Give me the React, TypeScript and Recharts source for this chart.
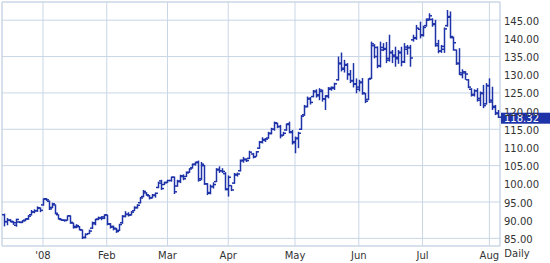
import { Bar, CartesianGrid, ComposedChart, ReferenceArea, ReferenceLine, XAxis, YAxis } from "recharts"

const BAR = "#1f33a8"
const GRID = "#c9d6e5"
const TEXT = "#333333"
const FONT = "'DejaVu Sans', Verdana, sans-serif"

// trading days, Dec 12 2007 - Aug 6 2008
const tradingDays: [string, number[]][] = [
  ["Dec", [12, 13, 14, 17, 18, 19, 20, 21, 24, 26, 27, 28, 31]],
  ["Jan", [2, 3, 4, 7, 8, 9, 10, 11, 14, 15, 16, 17, 18, 22, 23, 24, 25, 28, 29, 30, 31]],
  ["Feb", [1, 4, 5, 6, 7, 8, 11, 12, 13, 14, 15, 19, 20, 21, 22, 25, 26, 27, 28, 29]],
  ["Mar", [3, 4, 5, 6, 7, 10, 11, 12, 13, 14, 17, 18, 19, 20, 24, 25, 26, 27, 28, 31]],
  ["Apr", [1, 2, 3, 4, 7, 8, 9, 10, 11, 14, 15, 16, 17, 18, 21, 22, 23, 24, 25, 28, 29, 30]],
  ["May", [1, 2, 5, 6, 7, 8, 9, 12, 13, 14, 15, 16, 19, 20, 21, 22, 23, 27, 28, 29, 30]],
  ["Jun", [2, 3, 4, 5, 6, 9, 10, 11, 12, 13, 16, 17, 18, 19, 20, 23, 24, 25, 26, 27, 30]],
  ["Jul", [1, 2, 3, 7, 8, 9, 10, 11, 14, 15, 16, 17, 18, 21, 22, 23, 24, 25, 28, 29, 30, 31]],
  ["Aug", [1, 4, 5, 6]],
]
const dates = tradingDays.flatMap(([m, days]) => days.map((d) => `${m} ${d}`))

const monthTicks = ["Jan 2", "Feb 1", "Mar 3", "Apr 1", "May 1", "Jun 2", "Jul 1", "Aug 1"]
const monthLabels = ["'08", "Feb", "Mar", "Apr", "May", "Jun", "Jul", "Aug"]
const priceTicks = [85, 90, 95, 100, 105, 110, 115, 120, 125, 130, 135, 140, 145]

const open = [
  91.5, 89.6, 90.0, 89.5, 88.6, 89.5, 89.4, 90.0, 90.4, 91.5, 92.2, 92.6, 93.3,
  94.2, 95.9, 95.2, 93.5, 94.2, 91.5, 90.2, 90.0, 90.0, 91.2, 89.2, 88.3, 88.2, 87.3, 85.2, 86.3, 87.8, 89.0, 90.3, 90.6, 90.5,
  91.4, 89.0, 88.3, 87.6, 87.2, 89.3, 91.0, 91.6, 91.5, 92.6, 93.4, 94.8, 96.5, 97.5, 96.7, 96.2, 96.8, 99.0, 100.8, 99.8,
  100.4, 100.9, 101.8, 99.4, 100.6, 102.0, 102.0, 103.2, 104.4, 105.4, 106.0, 101.4, 105.0, 100.0, 97.6, 99.3, 100.6, 103.8, 103.6, 102.8,
  98.4, 99.5, 100.2, 102.4, 103.6, 106.5, 106.6, 107.0, 108.2, 107.5, 109.8, 111.5, 112.0, 112.6, 113.8, 115.0, 116.6, 115.8, 113.4, 114.8, 116.5, 114.1,
  111.6, 112.4, 115.0, 119.0, 121.3, 123.3, 124.0, 125.3, 124.5, 125.4, 123.4, 124.2, 126.0, 126.5, 128.6, 133.2, 131.8, 132.6, 130.0, 128.4, 127.5,
  126.6, 127.8, 124.8, 123.2, 129.0, 138.0, 137.5, 132.5, 137.5, 137.2, 134.5, 136.2, 135.0, 134.8, 136.0, 133.6, 137.0, 137.4, 139.6, 140.0, 142.5,
  141.0, 143.5, 145.3, 145.2, 144.0, 138.0, 136.5, 137.0, 143.5, 146.0, 140.2, 136.8, 133.0, 130.0, 130.5, 128.6, 126.0, 124.6, 125.6, 123.5, 125.0, 122.0,
  127.0, 122.5, 121.3, 119.5,
]
const high = [
  91.8, 90.6, 90.3, 89.8, 90.4, 89.7, 90.0, 90.5, 91.4, 92.8, 93.0, 93.8, 93.5,
  96.0, 96.1, 95.4, 94.8, 94.3, 91.6, 90.4, 90.2, 91.3, 91.3, 89.3, 88.9, 88.4, 87.4, 86.4, 87.4, 89.6, 90.4, 91.0, 91.1, 91.6,
  91.5, 89.2, 88.5, 87.9, 89.0, 91.4, 92.5, 92.2, 92.5, 93.8, 94.4, 96.4, 98.3, 97.7, 96.9, 97.2, 97.6, 100.6, 101.1, 100.6,
  101.1, 102.0, 102.0, 101.1, 102.5, 102.6, 103.4, 104.3, 105.6, 106.1, 106.4, 106.0, 105.2, 100.2, 99.8, 100.4, 104.3, 104.8, 104.3, 103.2,
  102.3, 99.6, 103.0, 103.1, 106.7, 107.4, 107.0, 109.1, 108.5, 109.0, 111.8, 112.8, 112.6, 114.3, 115.4, 117.1, 116.8, 116.2, 114.3, 116.6, 117.1, 114.8,
  113.0, 114.3, 118.9, 121.7, 124.0, 123.9, 125.8, 126.0, 126.3, 125.9, 124.4, 126.6, 126.8, 127.8, 135.0, 136.1, 134.1, 133.2, 131.3, 133.2, 129.0,
  128.6, 129.1, 125.0, 129.0, 139.1, 138.4, 137.8, 139.1, 138.7, 139.0, 141.0, 136.8, 137.7, 136.8, 137.7, 138.7, 138.2, 138.2, 141.0, 143.7, 144.6,
  143.5, 145.5, 146.9, 145.5, 145.1, 139.6, 138.2, 143.0, 147.8, 147.4, 140.5, 136.9, 137.3, 131.5, 131.0, 128.8, 126.3, 126.0, 126.3, 125.4, 127.2, 127.7,
  129.0, 126.7, 121.7, 120.3,
]
const low = [
  88.3, 88.6, 89.4, 88.7, 88.2, 89.2, 89.2, 89.7, 90.1, 91.3, 91.9, 92.3, 92.2,
  94.0, 95.3, 92.8, 93.3, 91.6, 90.2, 89.8, 89.6, 89.9, 89.0, 87.7, 87.8, 87.2, 84.8, 85.0, 86.2, 87.6, 88.6, 90.0, 90.0, 90.3,
  88.6, 87.7, 87.2, 86.5, 87.0, 89.0, 90.8, 91.0, 91.3, 92.5, 93.2, 94.6, 96.3, 96.7, 95.7, 96.0, 96.2, 98.8, 98.3, 99.7,
  100.2, 100.6, 97.2, 99.2, 100.2, 101.0, 101.9, 103.0, 104.2, 105.0, 100.6, 101.0, 99.7, 96.9, 97.1, 98.7, 100.5, 103.0, 103.0, 98.2,
  96.5, 98.0, 100.0, 102.0, 103.4, 105.8, 106.0, 106.8, 107.0, 107.5, 109.6, 111.1, 111.5, 112.4, 113.6, 114.6, 115.3, 112.5, 113.2, 114.6, 113.9, 110.8,
  108.4, 109.8, 114.8, 118.7, 121.0, 121.8, 123.8, 123.7, 123.0, 122.6, 120.3, 123.5, 125.6, 125.8, 128.4, 130.9, 130.6, 128.6, 127.7, 126.5, 124.9,
  125.4, 124.5, 122.2, 123.0, 128.8, 134.5, 131.8, 132.0, 136.5, 133.2, 133.6, 133.2, 132.2, 133.0, 132.3, 133.2, 135.5, 132.2, 139.1, 139.6, 140.0,
  140.5, 143.2, 144.9, 143.2, 137.7, 135.9, 136.0, 136.0, 143.2, 140.0, 136.6, 132.7, 129.9, 129.0, 128.6, 126.3, 124.0, 124.0, 122.6, 121.4, 120.8, 121.8,
  122.2, 120.3, 118.9, 118.1,
]
const close = [
  89.6, 90.0, 89.7, 89.3, 90.2, 89.4, 89.8, 90.3, 91.1, 92.3, 92.6, 93.4, 92.7,
  95.8, 95.6, 93.1, 94.5, 91.9, 90.4, 90.0, 89.9, 91.2, 89.4, 88.0, 88.5, 87.4, 85.3, 86.1, 87.0, 89.3, 90.2, 90.6, 90.9, 91.5,
  88.9, 88.1, 87.8, 86.9, 88.8, 91.1, 91.6, 91.4, 92.2, 93.5, 94.1, 96.1, 97.9, 97.0, 96.1, 96.9, 97.4, 100.2, 98.7, 100.3,
  100.9, 101.8, 97.8, 100.8, 102.2, 101.4, 103.0, 104.1, 105.3, 105.8, 101.0, 105.4, 100.0, 97.4, 99.2, 99.8, 104.0, 103.6, 103.4, 98.6,
  101.8, 98.3, 102.6, 102.7, 106.3, 106.8, 106.4, 108.7, 107.4, 108.8, 111.4, 112.2, 112.3, 113.9, 115.0, 116.8, 115.7, 113.2, 113.9, 116.3, 114.3, 111.3,
  112.6, 113.9, 118.6, 121.2, 123.5, 122.4, 125.5, 124.2, 125.8, 123.3, 124.0, 126.3, 126.3, 127.5, 133.0, 131.5, 132.8, 130.2, 128.3, 127.4, 126.0,
  128.0, 125.0, 122.7, 128.8, 138.5, 135.0, 132.4, 136.8, 137.0, 134.0, 136.0, 135.4, 134.4, 136.2, 133.5, 137.6, 137.5, 134.6, 140.2, 142.8, 140.8,
  143.0, 145.0, 146.2, 143.8, 138.5, 136.5, 137.8, 142.6, 145.8, 140.5, 138.8, 133.2, 130.5, 130.8, 130.2, 126.6, 124.4, 125.6, 123.0, 124.8, 121.5, 127.0,
  123.0, 121.0, 119.3, 118.32,
]

const data = dates.map((d, i) => ({
  d,
  o: open[i],
  h: high[i],
  l: low[i],
  c: close[i],
  range: [low[i], high[i]],
}))

const lastClose = close[close.length - 1]

function OhlcBar(props: any) {
  const { x, y, width, height, payload } = props
  const top = Math.min(y, y + height)
  const ht = Math.abs(height)
  const span = payload.h - payload.l || 1
  const py = (v: number) => top + ((payload.h - v) / span) * ht
  const cx = Math.round(x + width / 2) + 0.5
  return (
    <g stroke={BAR} strokeWidth={1.5}>
      <line x1={cx} x2={cx} y1={top} y2={top + ht} />
      <line x1={cx - 2.5} x2={cx} y1={py(payload.o)} y2={py(payload.o)} />
      <line x1={cx} x2={cx + 2.5} y1={py(payload.c)} y2={py(payload.c)} />
    </g>
  )
}

function PriceTag(props: any) {
  const { viewBox } = props
  const right = viewBox.x + viewBox.width
  const cy = viewBox.y
  return (
    <g>
      <rect x={right + 1} y={cy - 4.5} width={49} height={11} fill={BAR} />
      <text x={right + 4} y={cy + 1} dy="0.36em" fill="#ffffff" fontSize={10} fontFamily={FONT}>
        {lastClose.toFixed(2)}
      </text>
    </g>
  )
}

export default function App() {
  return (
    <div>
      <style>{"body{margin:0;background:#fff}"}</style>
      <ComposedChart
        width={550}
        height={263}
        data={data}
        margin={{ top: 2, right: 0, bottom: 0, left: 2 }}
        barCategoryGap={0}
      >
        <CartesianGrid stroke={GRID} strokeWidth={1} />
        <ReferenceArea y1={82.9} y2={150} fill="none" stroke={GRID} strokeWidth={1} ifOverflow="visible" />
        <XAxis
          dataKey="d"
          ticks={monthTicks}
          interval={0}
          tickFormatter={(v: string) => monthLabels[monthTicks.indexOf(v)]}
          tickLine={false}
          axisLine={false}
          tickSize={4}
          tickMargin={2}
          height={17}
          tick={{ fill: TEXT, fontSize: 10, fontFamily: FONT }}
        />
        <YAxis
          orientation="right"
          domain={[82.9, 150]}
          ticks={priceTicks}
          tickFormatter={(v: number) => v.toFixed(2)}
          tickLine={false}
          axisLine={false}
          tickSize={2}
          tickMargin={2}
          width={50}
          tick={{ fill: TEXT, fontSize: 10, fontFamily: FONT, dy: 1 }}
          label={{ value: "Daily", position: "bottom", offset: 4, dx: -8, fill: TEXT, fontSize: 10, fontFamily: FONT }}
        />
        <Bar dataKey="range" shape={<OhlcBar />} isAnimationActive={false} />
        <ReferenceLine y={lastClose} stroke="none" label={<PriceTag />} />
      </ComposedChart>
    </div>
  )
}
